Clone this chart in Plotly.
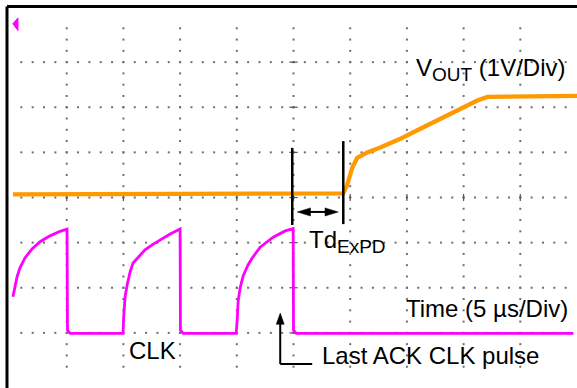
import numpy as np
import plotly.graph_objects as go

# ---- data (time in µs, 5 µs/div; vertical in scope divisions) ----
vout_t = [0.26, 29.39, 29.74, 30.18, 30.62, 31.06, 31.51, 32.65, 34.42, 35.92, 37.95, 39.89, 41.21, 42.10, 50.0]
vout_v = [4.07, 4.09, 4.28, 4.66, 4.88, 4.95, 5.00, 5.11, 5.30, 5.49, 5.74, 6.00, 6.15, 6.23, 6.25]

clk_t = [0.26, 0.44, 0.62, 0.88, 1.32, 1.94, 2.65, 3.53, 4.41, 5.03,
         5.07, 5.30, 9.97,
         10.02, 10.06, 10.15, 10.33, 10.59, 10.85, 11.30, 11.91, 12.53, 13.24, 14.12, 15.00,
         15.03, 15.27, 19.94,
         20.03, 20.12, 20.30, 20.56, 21.00, 21.36, 22.06, 23.21, 24.27, 24.97,
         25.00, 25.24, 49.69]
clk_v = [1.80, 2.06, 2.24, 2.44, 2.66, 2.86, 3.02, 3.15, 3.25, 3.30,
         1.06, 0.99, 0.99,
         1.33, 1.62, 1.80, 2.06, 2.35, 2.55, 2.68, 2.84, 2.95, 3.06, 3.19, 3.30,
         1.06, 0.99, 0.99,
         1.26, 1.71, 2.00, 2.26, 2.51, 2.66, 2.90, 3.12, 3.26, 3.31,
         1.06, 0.99, 0.99]

FONT = "Liberation Sans, Arial, Helvetica, sans-serif"

fig = go.Figure()

# ---- oscilloscope dotted graticule ----
gx, gy = [], []
for xv in np.arange(5, 50, 5):
    for yv in np.arange(0.25, 8, 0.25):
        gx.append(xv); gy.append(yv)
for yv in np.arange(1, 8, 1):
    for xv in np.arange(1, 50, 1):
        gx.append(xv); gy.append(yv)
fig.add_trace(go.Scatter(x=gx, y=gy, mode="markers", hoverinfo="skip",
                         marker=dict(symbol="square", size=2, color="#6e6e6e", line=dict(width=0)),
                         showlegend=False))
# centre cross tick marks
fig.add_trace(go.Scatter(x=[25] * 7, y=list(range(1, 8)), mode="markers", hoverinfo="skip",
                         marker=dict(symbol="line-ew", size=6, line=dict(width=1.2, color="#555")),
                         showlegend=False))
fig.add_trace(go.Scatter(x=list(range(5, 50, 5)), y=[4] * 9, mode="markers", hoverinfo="skip",
                         marker=dict(symbol="line-ns", size=5, line=dict(width=1.2, color="#555")),
                         showlegend=False))

# ---- traces ----
fig.add_trace(go.Scatter(x=clk_t, y=clk_v, mode="lines", name="CLK",
                         line=dict(color="#FF00FF", width=2.8), showlegend=False))
fig.add_trace(go.Scatter(x=vout_t, y=vout_v, mode="lines", name="VOUT",
                         line=dict(color="#FF9900", width=4.3), showlegend=False))

blk = dict(color="black", width=2)
shapes = [
    # frame (top and left edges)
    dict(type="line", xref="paper", yref="paper", x0=-0.0053, x1=1.01, y0=1.0291, y1=1.0291,
         line=dict(color="black", width=3)),
    dict(type="line", xref="paper", yref="paper", x0=-0.0053, x1=-0.0053, y0=1.0291, y1=-0.04,
         line=dict(color="black", width=3)),
    # timing markers
    dict(type="line", xref="x", yref="y", x0=24.89, x1=24.89, y0=3.39, y1=5.10,
         line=dict(color="black", width=2.5)),
    dict(type="line", xref="x", yref="y", x0=29.39, x1=29.39, y0=3.41, y1=5.25,
         line=dict(color="black", width=2.5)),
    # double arrow between markers
    dict(type="line", xref="x", yref="y", x0=26.3, x1=28.0, y0=3.68, y1=3.68, line=blk),
    dict(type="path", xref="x", yref="y", path="M 25.33 3.68 L 26.50 3.77 L 26.50 3.59 Z",
         fillcolor="black", line=dict(color="black", width=0.5)),
    dict(type="path", xref="x", yref="y", path="M 28.95 3.68 L 27.78 3.77 L 27.78 3.59 Z",
         fillcolor="black", line=dict(color="black", width=0.5)),
    # Last ACK leader + arrow
    dict(type="line", xref="x", yref="y", x0=23.83, x1=26.65, y0=0.31, y1=0.31, line=blk),
    dict(type="line", xref="x", yref="y", x0=23.83, x1=23.83, y0=0.31, y1=1.25, line=blk),
    dict(type="path", xref="x", yref="y", path="M 23.83 1.44 L 23.48 1.19 L 24.18 1.19 Z",
         fillcolor="black", line=dict(color="black", width=0.5)),
    # channel marker
    dict(type="path", xref="x", yref="y", path="M 0.25 7.85 L 0.70 7.98 L 0.70 7.70 Z",
         fillcolor="#FF00FF", line=dict(color="#FF00FF", width=1)),
]

F = dict(size=24, color="black", family=FONT)
annotations = [
    dict(x=35.66, y=6.83, xref="x", yref="y", xanchor="left", yanchor="middle",
         text="V<sub><span style='font-size:19px'>OUT</span></sub> (1V/Div)", showarrow=False, font=F),
    dict(x=26.22, y=3.02, xref="x", yref="y", xanchor="left", yanchor="middle",
         text="Td<sub><span style='font-size:19px'>ExPD</span></sub>", showarrow=False, font=F),
    dict(x=34.78, y=1.53, xref="x", yref="y", xanchor="left", yanchor="middle",
         text="Time (5 µs/Div)", showarrow=False, font=F),
    dict(x=10.33, y=0.60, xref="x", yref="y", xanchor="left", yanchor="middle",
         text="CLK", showarrow=False, font=F),
    dict(x=27.36, y=0.49, xref="x", yref="y", xanchor="left", yanchor="middle",
         text="Last ACK CLK pulse", showarrow=False, font=F),
]

fig.update_layout(
    width=577, height=388,
    margin=dict(l=10, r=0, t=17, b=10, pad=0),
    paper_bgcolor="white", plot_bgcolor="white",
    xaxis=dict(range=[0, 50], showgrid=False, zeroline=False, showticklabels=False,
               ticks="", showline=False, fixedrange=True),
    yaxis=dict(range=[0, 8], showgrid=False, zeroline=False, showticklabels=False,
               ticks="", showline=False, fixedrange=True),
    shapes=shapes, annotations=annotations, showlegend=False,
    font=dict(family=FONT),
)

fig.write_html("out.html", config={"displayModeBar": False},
               post_script="document.body.style.margin='0';document.body.style.overflow='hidden';")
